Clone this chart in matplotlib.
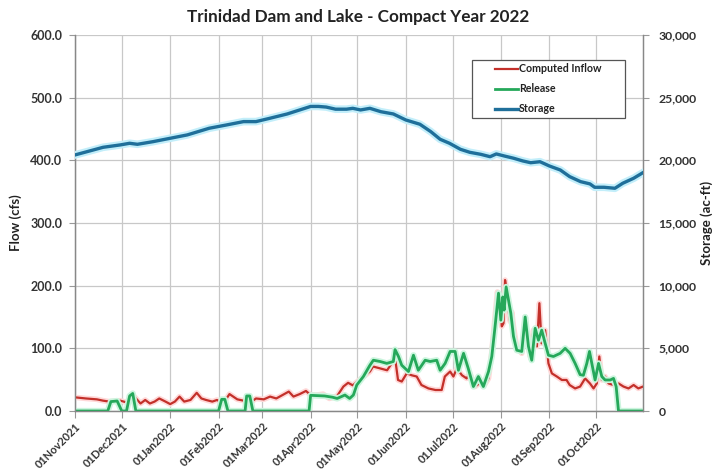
import datetime as dt
import numpy as np
import matplotlib
matplotlib.use("Agg")
import matplotlib.pyplot as plt
import matplotlib.dates as mdates
import matplotlib.patheffects as pe
import matplotlib.transforms as mtrans
from matplotlib.patches import Rectangle
from matplotlib.lines import Line2D
from matplotlib.ticker import FuncFormatter, MultipleLocator

plt.rcParams['font.family'] = ['Lato', 'DejaVu Sans']

# ---- data (days since 01Nov2021) ----
inflow_days = [0, 7, 14, 18, 22, 29, 33, 36, 38, 42, 45, 48, 51, 54, 58, 61, 64, 67, 70, 74, 78, 81, 84, 88,
               91, 95, 99, 104, 108, 112, 116, 121, 125, 129, 133, 137, 140, 144, 148, 151, 155, 159, 163, 168,
               172, 175, 178, 181, 185, 189, 191, 195.5, 200, 203, 205, 207, 209.4, 212.6, 215.8, 219, 222,
               226.5, 231, 235, 237, 240.4, 242.5, 244.7, 248, 251, 253, 256.4, 259.6, 262, 265,
               267, 269, 270.7, 272.4, 273.5, 274.6, 275.6, 276.7, 277.8, 278.8, 279.9, 281, 283, 286.3,
               288.5, 289.5, 291.7, 293.8, 296, 297.6, 299, 301.3, 303.4, 305.6, 308.8, 312, 315, 317,
               320.5, 323.7, 326.9, 330, 332.3, 334.4, 336, 337.6, 339.7, 341.9, 345, 348.3, 351.5, 354.7,
               358, 361, 364]
inflow_cfs = [21.8, 20, 18.6, 16.5, 15, 16.5, 13.8, 20, 23, 12, 17.6, 12, 15, 20, 15, 11, 15, 23, 15, 17.6, 29, 20, 17.6, 15,
              17.6, 12, 27, 18.6, 16.5, 13, 20, 18.6, 23, 20, 25.5, 31, 23, 27, 32, 25.5, 25.5, 27, 20, 24,
              39, 45, 41, 47, 55, 63, 71, 68, 65, 76, 87, 49.5, 47, 60, 57, 55, 41.5,
              36, 33.5, 33.5, 55, 63, 55, 68, 57, 52, 60, 39, 45, 40, 52,
              92, 145, 190, 172, 135, 140, 209, 193, 161, 143, 158, 135, 103, 92,
              150, 119, 87, 129, 103, 172, 108, 129, 76, 60, 55, 49.5, 49.5, 41.5,
              36, 39, 52, 44, 36, 44, 87, 49.5, 55, 44, 41.5, 44, 39, 36,
              41.5, 36, 39]

release_days = [0, 21, 23, 27, 30, 33, 35, 37, 39, 92, 94, 96, 98, 109, 110, 112, 114, 150, 151, 160, 165, 168,
                173, 176, 178.4, 180.6, 184.8, 189, 191.2, 195.5, 199.8, 204, 205.1, 207.3, 209.4, 213.7,
                216.9, 220, 224.4, 227.6, 231.8, 234, 237.2, 240.4, 243.6, 245.7, 249, 252, 255.3, 258.5,
                261.7, 265, 267.1, 269.2, 271.4, 272.9, 274.1, 275, 276.3, 277.8, 279.3, 281, 283.1, 286.3,
                288.5, 290.6, 292.7, 294.9, 297, 299.1, 301.3, 303.4, 306.6, 310.9, 314.1, 317.3, 320.5,
                323.7, 325.8, 328, 329.7, 331.2, 333.3, 335.5, 337.6, 339.7, 343, 345.1, 346.8, 348.3, 364]
release_cfs = [0, 0, 15, 16, 0, 0, 24, 28, 0, 0, 18.6, 18.6, 0, 0, 24, 24, 0, 0, 25, 24, 22, 20,
               25.5, 20, 25.5, 41.5, 55, 73, 81, 79, 76, 79, 98, 87, 73, 63,
               89, 65, 81, 79, 81, 65, 76, 95, 95, 65, 92, 68, 39, 55,
               39, 63, 87, 135, 188, 145, 182, 161, 198, 177, 156, 119, 97, 95,
               150, 103, 81, 132, 113, 129, 108, 89, 87, 92, 100, 92, 76,
               58, 57, 76, 95, 76, 49.5, 76, 55, 49.5, 49.5, 52, 39, 0, 0]

storage_days = [0, 18, 29, 35, 40, 50, 61, 72, 86, 97, 108, 116, 125, 136, 151, 156, 161, 167, 174, 178, 183,
                189, 196, 204, 212, 221, 228, 234, 240, 247, 253, 260, 266, 270, 275, 281, 287, 292, 298,
                304, 311, 317, 324, 330, 333, 339, 346, 351, 358, 364]
storage_af = [20430, 21040, 21230, 21360, 21280, 21490, 21760, 22030, 22560, 22820, 23090, 23090, 23360, 23700,
              24300, 24300, 24250, 24080, 24080, 24150, 24020,
              24150, 23880, 23700, 23220, 22880, 22290, 21680, 21360, 20880, 20640, 20480, 20290, 20510,
              20350, 20170, 19950, 19810, 19890, 19550, 19230, 18700, 18300, 18120, 17850, 17850, 17770,
              18170, 18570, 19020]

month_ticks = ['01Nov2021', '01Dec2021', '01Jan2022', '01Feb2022', '01Mar2022', '01Apr2022',
               '01May2022', '01Jun2022', '01Jul2022', '01Aug2022', '01Sep2022', '01Oct2022']
series_names = ['Computed Inflow', 'Release', 'Storage']

# ---- figure ----
base = mdates.date2num(dt.datetime(2021, 11, 1))
to_x = lambda d: base + np.asarray(d, dtype=float)

W, H = 713, 470
fig = plt.figure(figsize=(W / 100, H / 100), dpi=100)
ax = fig.add_axes([75 / W, 1 - 411 / H, (643 - 75) / W, (411 - 35) / H])
ax2 = ax.twinx()

grid_c = '#c8c8c8'
ax.set_ylim(0, 600)
ax2.set_ylim(0, 30000)
ax.set_xlim(base, base + 364)

tick_x = [mdates.date2num(dt.datetime.strptime(s, '%d%b%Y')) for s in month_ticks]
ax.set_xticks(tick_x)
ax.set_xticklabels(month_ticks, rotation=45, ha='right', va='top', rotation_mode='anchor',
                   fontsize=7.9, fontweight='bold', color='#333333')
offset = mtrans.ScaledTranslation(4 / 100, -1 / 100, fig.dpi_scale_trans)
for lab in ax.get_xticklabels():
    lab.set_transform(lab.get_transform() + offset)

ax.yaxis.set_major_locator(MultipleLocator(100))
ax.yaxis.set_major_formatter(FuncFormatter(lambda v, p: f'{v:.1f}'))
ax2.yaxis.set_major_locator(MultipleLocator(5000))
ax2.yaxis.set_major_formatter(FuncFormatter(lambda v, p: f'{int(v):,}'))
ax.tick_params(axis='y', labelsize=9.0, colors='#333333', length=4, width=0.8, color='#999999', pad=5)
ax2.tick_params(axis='y', labelsize=8.8, colors='#333333', length=4, width=0.8, color='#999999', pad=7)
for a in (ax, ax2):
    for lab in a.get_yticklabels():
        lab.set_fontweight('bold')
ax.tick_params(axis='x', length=5, color='#999999', pad=2)

ax.grid(True, color=grid_c, linewidth=0.9)
ax.set_axisbelow(True)
ax.spines['top'].set_visible(False)
ax2.spines['top'].set_visible(False)
for a in (ax, ax2):
    for s in ('left', 'right', 'bottom'):
        a.spines[s].set_color('#888888')
        a.spines[s].set_linewidth(0.9)

glow_r = [pe.Stroke(linewidth=4.0, foreground='#ffd9d9'), pe.Normal()]
glow_g = [pe.Stroke(linewidth=4.5, foreground='#ccf5de'), pe.Normal()]
glow_b = [pe.Stroke(linewidth=5.5, foreground='#c2eefa'), pe.Normal()]

colors = ['#c3302a', '#25a85a', '#1f6f9a']
ax.plot(to_x(inflow_days), inflow_cfs, color=colors[0], lw=1.6, path_effects=glow_r, zorder=3)
ax.plot(to_x(release_days), release_cfs, color=colors[1], lw=2.0, path_effects=glow_g, zorder=4)
ax2.plot(to_x(storage_days), storage_af, color=colors[2], lw=2.4, path_effects=glow_b, zorder=3)

ax.set_ylabel('Flow (cfs)', fontsize=9.5, fontweight='bold', color='#222222', labelpad=6)
ax2.set_ylabel('Storage (ac-ft)', fontsize=9.5, fontweight='bold', color='#222222', labelpad=3)
fig.text(358 / W, 1 - 17 / H, 'Trinidad Dam and Lake - Compact Year 2022', ha='center', va='center',
         fontsize=12.3, fontweight='bold', color='#222222')

# ---- legend box (drawn in figure pixels) ----
px = lambda x, y: (x / W, 1 - y / H)
box = Rectangle(px(472, 118), 153 / W, 58 / H, transform=fig.transFigure, facecolor='white',
                edgecolor='#555555', linewidth=0.9, zorder=10)
fig.add_artist(box)
lw_list = [1.6, 2.0, 2.4]
for i, (name, c, lw) in enumerate(zip(series_names, colors, lw_list)):
    yy = 69 + i * 20
    fig.add_artist(Line2D([495 / W, 518 / W], [1 - yy / H] * 2, transform=fig.transFigure,
                          color=c, lw=lw, zorder=11))
    fig.text(519 / W, 1 - yy / H, name, ha='left', va='center', fontsize=7.7, fontweight='bold',
             color='#222222', zorder=12)

fig.savefig('out.png', dpi=100)
